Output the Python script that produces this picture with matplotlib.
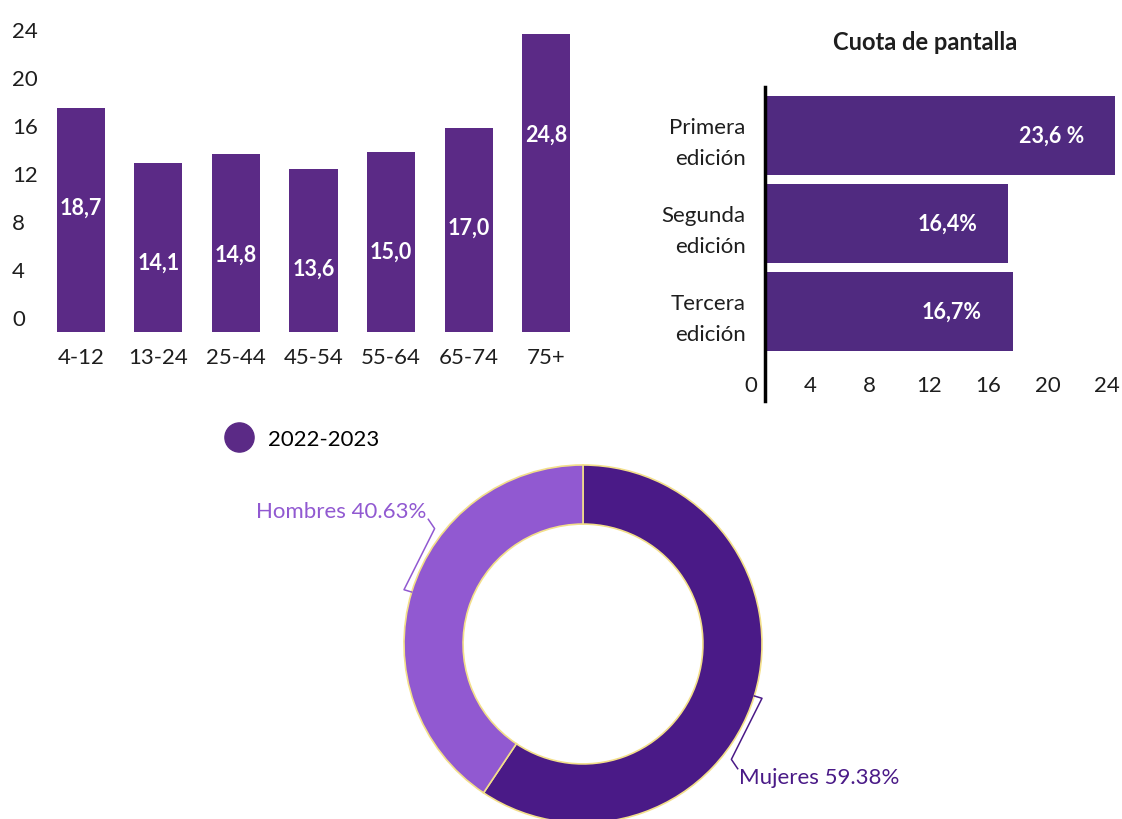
import numpy as np
import matplotlib
matplotlib.use("Agg")
import matplotlib.pyplot as plt
import matplotlib.transforms as mtransforms
from matplotlib.lines import Line2D

# datos
edades = ["4-12", "13-24", "25-44", "45-54", "55-64", "65-74", "75+"]
valores_edad = [18.7, 14.1, 14.8, 13.6, 15.0, 17.0, 24.8]
etiquetas_edad = ["18,7", "14,1", "14,8", "13,6", "15,0", "17,0", "24,8"]
ticks_edad = [0, 4, 8, 12, 16, 20, 24]

ediciones = ["Primera\nedición", "Segunda\nedición", "Tercera\nedición"]
cuota = [23.6, 16.4, 16.7]
etiquetas_cuota = ["23,6 %", "16,4%", "16,7%"]
ticks_cuota = [0, 4, 8, 12, 16, 20, 24]

sexos = ["Mujeres", "Hombres"]
porcentajes = [59.38, 40.63]
leyenda = "2022-2023"

MORADO = "#5b2a86"
MORADO_H = "#502a80"
OSCURO = "#4a1a87"
CLARO = "#9159d1"
BORDE = "#f3df8a"
TEXTO = "#1e1e1e"

REG = ["Lato", "DejaVu Sans"]
NEG = ["Lato", "DejaVu Sans"]

W, H = 1122, 820
fig = plt.figure(figsize=(W / 100, H / 100), dpi=100)


def px(l, t, r, b):
    return [l / W, 1 - b / H, (r - l) / W, (b - t) / H]


def mover(labels, dx, dy):
    off = mtransforms.ScaledTranslation(dx / 100, dy / 100, fig.dpi_scale_trans)
    for lb in labels:
        lb.set_transform(lb.get_transform() + off)


# barras por edad
ax1 = fig.add_axes(px(42, 27, 585, 333))
x = np.arange(len(edades))
ax1.bar(x, valores_edad, width=0.62, color=MORADO)
for xi, v, t in zip(x, valores_edad, etiquetas_edad):
    ax1.text(xi, v - 8.3, t, ha="center", va="center", color="white",
             fontsize=15.5, fontweight="bold", family=NEG)
ax1.set_xlim(-0.5, len(edades) - 0.5)
ax1.set_ylim(0, 25.5)
ax1.set_xticks(x)
ax1.set_xticklabels(edades, fontsize=16, family=REG, color=TEXTO)
ax1.set_yticks(ticks_edad)
ax1.set_yticklabels([str(t) for t in ticks_edad], fontsize=16, family=REG,
                    color=TEXTO, ha="left")
ax1.tick_params(axis="x", length=0, pad=11)
ax1.tick_params(axis="y", length=0, pad=21.6)
mover(ax1.get_yticklabels(), 0, 15)
for s in ax1.spines.values():
    s.set_visible(False)

# cuota de pantalla
ax2 = fig.add_axes(px(765, 88, 1121.7, 402))
y = np.arange(len(ediciones))
ax2.barh(y, cuota, height=0.9, color=MORADO_H)
for yi, v, t in zip(y, cuota, etiquetas_cuota):
    ax2.text(v - 2.1, yi, t, ha="right", va="center", color="white",
             fontsize=15.5, fontweight="bold", family=NEG)
ax2.set_xlim(0, 24.05)
ax2.set_ylim(3.017, -0.551)
ax2.set_yticks(y)
ax2.set_yticklabels(ediciones, fontsize=16, family=REG, color=TEXTO,
                    linespacing=1.65)
ax2.set_xticks(ticks_cuota)
ax2.set_xticklabels([str(t) for t in ticks_cuota], fontsize=16, family=REG,
                    color=TEXTO)
ax2.tick_params(axis="y", length=0, pad=14)
ax2.tick_params(axis="x", length=0, pad=-19)
mover(ax2.get_xticklabels(), -14, 0)
for k in ["top", "right", "bottom"]:
    ax2.spines[k].set_visible(False)
ax2.spines["left"].set_linewidth(2.5)
ax2.spines["left"].set_color("black")
fig.text(925 / W, 1 - 43 / H, "Cuota de pantalla", ha="center", va="center",
         fontsize=17, fontweight="bold", family=NEG, color=TEXTO)

# leyenda
fig.legend(handles=[Line2D([], [], marker="o", ls="", ms=21, color=MORADO)],
           labels=[leyenda], loc="center left",
           bbox_to_anchor=(197 / W, 1 - 440 / H), frameon=False,
           prop={"family": REG, "size": 16}, handletextpad=0.3)

# donut
ax3 = fig.add_axes(px(404, 466, 762, 824))
wedges, _ = ax3.pie(porcentajes, colors=[OSCURO, CLARO], startangle=90,
                    counterclock=False, radius=1,
                    wedgeprops=dict(width=0.33, edgecolor=BORDE, linewidth=1.2))
ax3.set_xlim(-1, 1)
ax3.set_ylim(-1, 1)


def polar(ang, r):
    a = np.radians(ang)
    return r * np.cos(a), r * np.sin(a)


for w, nombre, p, col, ha in zip(wedges, sexos, porcentajes,
                                 [OSCURO, CLARO], ["left", "right"]):
    mid = (w.theta1 + w.theta2) / 2
    pts = [polar(mid, 1.0), polar(mid, 1.045), polar(mid - 21, 1.05),
           polar(mid - 22, 1.11)]
    xs, ys = zip(*pts)
    ax3.plot(xs, ys, color=col, lw=1.1, clip_on=False)
    tx, ty = polar(mid - 23.5, 1.145)
    ax3.text(tx, ty, f"{nombre} {p:.2f}%", ha=ha, va="center", color=col,
             fontsize=16, family=REG)

fig.savefig("out.png", dpi=100)
